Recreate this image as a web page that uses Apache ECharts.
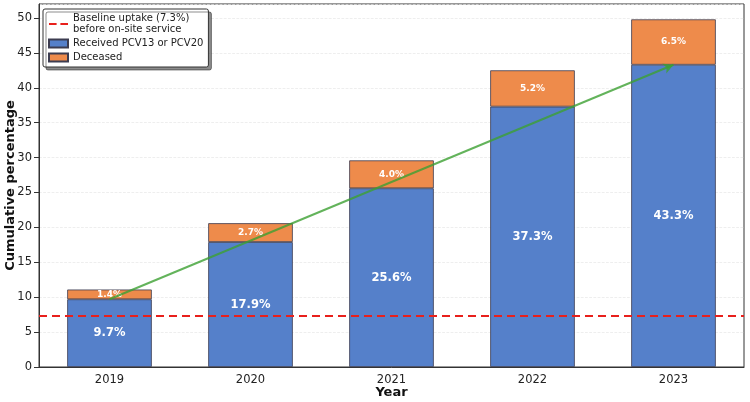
<!DOCTYPE html>
<html>
<head>
<meta charset="utf-8">
<script src="https://cdn.jsdelivr.net/npm/echarts@6/dist/echarts.min.js"></script>
<style>
  html, body { margin: 0; padding: 0; background: #fff; }
  #chart { width: 750px; height: 402px; }
</style>
</head>
<body>
<div id="chart"></div>
<script>
var years = ['2019', '2020', '2021', '2022', '2023'];
var received = [9.7, 17.9, 25.6, 37.3, 43.3];
var deceased = [1.4, 2.7, 4.0, 5.2, 6.5];
var baseline = 7.3;

var font = 'DejaVu Sans';
var myChart = echarts.init(document.getElementById('chart'));

var option = {
    animation: false,
    textStyle: { fontFamily: font },
    grid: {
        left: 39, right: 6, top: 4, bottom: 35,
        outerBoundsMode: 'none',
        containLabel: false,
        show: true, borderColor: '#333', borderWidth: 1
    },
    legend: {
        orient: 'vertical',
        left: 43, top: 9,
        padding: [4, 5, 4, 5],
        itemGap: 3,
        itemWidth: 19, itemHeight: 8,
        backgroundColor: '#fff',
        borderColor: '#333',
        borderWidth: 1,
        borderRadius: 2,
        shadowColor: 'rgba(0,0,0,0.45)',
        shadowOffsetX: 3, shadowOffsetY: 3, shadowBlur: 0,
        textStyle: { fontFamily: font, fontSize: 10, color: '#222', lineHeight: 11 },
        data: [
            { name: 'Baseline uptake (7.3%)\nbefore on-site service',
              icon: 'path://M0,4h8v2h-8z M12,4h8v2h-8z' },
            { name: 'Received PCV13 or PCV20', icon: 'rect' },
            { name: 'Deceased', icon: 'rect' }
        ]
    },
    xAxis: {
        type: 'category',
        data: years,
        name: 'Year',
        nameLocation: 'middle',
        nameGap: 19,
        nameMoveOverlap: false,
        nameTextStyle: { fontFamily: font, fontSize: 13, fontWeight: 'bold', color: '#111' },
        axisLine: { lineStyle: { color: '#333' } },
        axisTick: { alignWithLabel: true, lineStyle: { color: '#333' } },
        axisLabel: { fontFamily: font, fontSize: 11.5, color: '#222', margin: 7 }
    },
    yAxis: {
        type: 'value',
        min: 0, max: 52, interval: 5,
        name: 'Cumulative percentage',
        nameLocation: 'middle',
        nameGap: 22,
        nameMoveOverlap: false,
        nameTextStyle: { fontFamily: font, fontSize: 13, fontWeight: 'bold', color: '#111' },
        axisLine: { show: true, lineStyle: { color: '#333' } },
        axisTick: { show: true, lineStyle: { color: '#333' } },
        axisLabel: { fontFamily: font, fontSize: 11.5, color: '#222', showMaxLabel: false, margin: 7 },
        splitLine: { lineStyle: { color: '#e6e6e6', width: 0.7, type: 'dashed' } }
    },
    series: [
        {
            name: 'Received PCV13 or PCV20',
            type: 'bar',
            stack: 'total',
            barWidth: '60%',
            data: received,
            itemStyle: { color: '#5580ca', borderColor: '#3c3c50', borderWidth: 0.8 },
            label: {
                show: true, position: 'inside',
                formatter: function (p) { return p.value.toFixed(1) + '%'; },
                color: '#fff', fontWeight: 'bold', fontSize: 11.5, fontFamily: font
            },
            markLine: {
                silent: true,
                symbol: 'none',
                label: { show: false },
                data: [
                    {
                        yAxis: baseline,
                        lineStyle: { color: '#e8201c', type: [8, 5], width: 2 }
                    },
                    [
                        { coord: [years[0], received[0]], symbol: 'none' },
                        { coord: [years[4], received[4]], symbol: 'arrow', symbolSize: [8, 10],
                          lineStyle: { color: 'rgba(60,160,50,0.8)', width: 2, type: 'solid' } }
                    ]
                ]
            },
            z: 2
        },
        {
            name: 'Deceased',
            type: 'bar',
            stack: 'total',
            barWidth: '60%',
            data: deceased,
            itemStyle: { color: '#ee8b4b', borderColor: '#3c3c50', borderWidth: 0.8 },
            label: {
                show: true, position: 'inside',
                formatter: function (p) { return p.value.toFixed(1) + '%'; },
                color: '#fff', fontWeight: 'bold', fontSize: 9, fontFamily: font
            },
            z: 2
        },
        {
            name: 'Baseline uptake (7.3%)\nbefore on-site service',
            type: 'line',
            data: [],
            itemStyle: { color: '#e8201c' },
            lineStyle: { color: '#e8201c', type: 'dashed' }
        }
    ]
};
myChart.setOption(option);
</script>
</body>
</html>
